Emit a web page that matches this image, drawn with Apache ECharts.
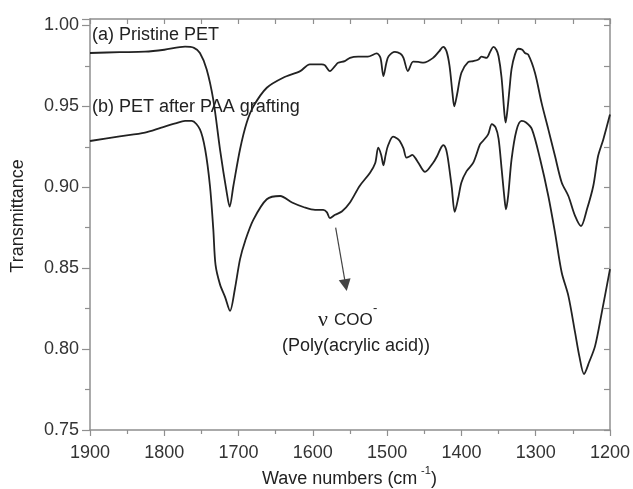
<!DOCTYPE html>
<html>
<head>
<meta charset="utf-8">
<script src="https://cdn.jsdelivr.net/npm/echarts@6/dist/echarts.min.js"></script>
<style>html,body{margin:0;padding:0;background:#fff;}#c{width:633px;height:489px;}</style>
</head>
<body>
<div id="c"></div>
<script>
// Wave numbers (cm-1) and transmittance, curve (a) Pristine PET
const waveA = [1900,1860,1826,1800,1772,1760,1752,1743,1734,1725,1716,1712,1707,1698,1689,1680,1662,1640,1617,1604,1588,1584,1577,1570,1566,1557,1550,1539,1526,1514,1509,1505,1501,1498,1489.5,1482,1478,1472,1465,1458,1451,1438,1430,1424.5,1420,1416,1412,1409.6,1406,1400,1391,1384,1377,1373,1366,1361,1357,1353,1350,1346,1342,1340.5,1338,1335,1332.5,1328,1323.5,1318,1314.5,1310,1301,1292,1283,1274,1265,1256,1247,1239,1231,1222.5,1216,1209,1200];
const transA = [0.983,0.9835,0.9838,0.985,0.9869,0.9862,0.983,0.973,0.954,0.9235,0.897,0.888,0.9008,0.9235,0.94,0.95,0.9615,0.9677,0.9718,0.976,0.976,0.9755,0.9718,0.975,0.977,0.978,0.98,0.9807,0.9807,0.9827,0.98,0.9687,0.977,0.981,0.9837,0.9825,0.98,0.9718,0.9776,0.9775,0.977,0.98,0.984,0.9868,0.984,0.975,0.958,0.95,0.957,0.9708,0.9774,0.978,0.979,0.9807,0.98,0.984,0.9868,0.985,0.981,0.968,0.945,0.94,0.948,0.962,0.973,0.982,0.9856,0.985,0.983,0.982,0.9708,0.952,0.9358,0.9193,0.903,0.8946,0.8823,0.876,0.8864,0.9008,0.9193,0.9296,0.945];
// curve (b) PET after PAA grafting
const waveB = [1900,1860,1826,1804,1785,1772,1763,1752,1745,1738.5,1734,1731,1725,1718,1711.5,1705,1698,1691,1680,1662,1644,1628,1611,1597,1586,1581,1577,1570,1561,1550,1537,1523,1516,1512,1508,1505,1502,1499,1492,1486,1483,1478,1474,1470,1466,1462,1458,1449,1438,1433,1428,1424.5,1421,1418,1413,1409,1404,1400,1393,1384,1375,1371,1364,1359,1354,1350,1346,1342,1340,1337,1332.5,1326,1319,1313,1305,1294,1283,1274,1265,1256,1247,1241,1235,1228,1220,1211,1200];
const transB = [0.9286,0.9315,0.9338,0.9369,0.9395,0.941,0.941,0.9358,0.9235,0.9008,0.874,0.852,0.84,0.832,0.8236,0.837,0.8556,0.867,0.88,0.8926,0.8946,0.8906,0.8875,0.886,0.886,0.8845,0.8809,0.883,0.885,0.8906,0.9008,0.909,0.915,0.9245,0.92,0.9136,0.92,0.9255,0.9313,0.93,0.9286,0.924,0.9183,0.919,0.92,0.918,0.9152,0.9095,0.9152,0.919,0.924,0.926,0.924,0.9173,0.9,0.8848,0.894,0.903,0.91,0.9152,0.9265,0.9286,0.9327,0.939,0.937,0.93,0.912,0.893,0.8864,0.895,0.9173,0.935,0.941,0.94,0.9358,0.9173,0.8946,0.872,0.8473,0.8329,0.8103,0.795,0.7846,0.792,0.802,0.8227,0.8494];
const xTicks = [1900,1800,1700,1600,1500,1400,1300,1200];
const yTicks = [0.75,0.80,0.85,0.90,0.95,1.00];
// arrow annotation (data coordinates)
const arrowFrom = [1569.3, 0.8751];
const arrowTo = [1555.8, 0.8395];

const zip = (xs, ys) => xs.map((x, i) => [x, ys[i]]);
const axisColor = '#8f8f8f';
const font = '"Liberation Sans", Arial, sans-serif';

const chart = echarts.init(document.getElementById('c'), null, {renderer: 'canvas'});
const baseX = {
  type: 'value', min: 1200, max: 1900, interval: 100, inverse: true,
  axisLine: {show: true, onZero: false, lineStyle: {color: axisColor, width: 1.5}},
  splitLine: {show: false}
};
const baseY = {
  type: 'value', min: 0.75, max: 1.004, interval: 0.05,
  axisLine: {show: true, onZero: false, lineStyle: {color: axisColor, width: 1.5}},
  splitLine: {show: false}
};
const isTick = (v, arr) => arr.some(t => Math.abs(t - v) < 1e-6);
chart.setOption({
  animation: false,
  backgroundColor: '#fff',
  grid: {left: 90, right: 23, top: 19, bottom: 59},
  xAxis: [
    Object.assign({}, baseX, {
      position: 'bottom',
      axisTick: {show: true, inside: false, length: 6, lineStyle: {color: axisColor, width: 1.2}},
      minorTick: {show: true, splitNumber: 2, length: 4, lineStyle: {color: axisColor, width: 1.2}},
      axisLabel: {show: true, margin: 14, fontSize: 18, fontFamily: font, color: '#333',
        formatter: v => isTick(v, xTicks) ? String(v) : ''}
    }),
    Object.assign({}, baseX, {
      position: 'top',
      axisTick: {show: true, inside: true, length: 5, lineStyle: {color: axisColor, width: 1.2}},
      minorTick: {show: true, splitNumber: 2, length: 5, lineStyle: {color: axisColor, width: 1.2}},
      axisLabel: {show: false}
    })
  ],
  yAxis: [
    Object.assign({}, baseY, {
      position: 'left',
      axisTick: {show: true, inside: false, length: 8, lineStyle: {color: axisColor, width: 1.2}},
      minorTick: {show: true, splitNumber: 2, length: 5, lineStyle: {color: axisColor, width: 1.2}},
      axisLabel: {show: true, margin: 11, fontSize: 18, fontFamily: font, color: '#333',
        showMaxLabel: false,
        formatter: v => isTick(v, yTicks) ? v.toFixed(2) : ''}
    }),
    Object.assign({}, baseY, {
      position: 'right',
      axisTick: {show: true, inside: true, length: 6, lineStyle: {color: axisColor, width: 1.2}},
      minorTick: {show: true, splitNumber: 2, length: 6, lineStyle: {color: axisColor, width: 1.2}},
      axisLabel: {show: false}
    })
  ],
  series: [
    {
      name: '(a) Pristine PET', type: 'line', xAxisIndex: 0, yAxisIndex: 0,
      data: zip(waveA, transA), showSymbol: false, smooth: 0.3,
      lineStyle: {color: '#222', width: 1.8}
    },
    {
      name: '(b) PET after PAA grafting', type: 'line', xAxisIndex: 0, yAxisIndex: 0,
      data: zip(waveB, transB), showSymbol: false, smooth: 0.3,
      lineStyle: {color: '#222', width: 1.8},
      markLine: {
        silent: true, symbol: ['none', 'triangle'], symbolSize: 12,
        label: {show: false},
        lineStyle: {color: '#444', width: 1.2, type: 'solid'},
        data: [[{coord: arrowFrom}, {coord: arrowTo}]]
      }
    }
  ],
  graphic: [
    {type: 'text', x: 92, y: 35, style: {text: '(a) Pristine PET', font: '18px ' + font, fill: '#222', textAlign: 'left', textVerticalAlign: 'middle', verticalAlign: 'middle'}},
    {type: 'text', x: 92, y: 107, style: {text: '(b) PET after PAA grafting', font: '18px ' + font, fill: '#222', textAlign: 'left', textVerticalAlign: 'middle', verticalAlign: 'middle'}},
    {type: 'text', x: 318, y: 320, style: {text: 'ν', font: '22px "Liberation Serif", "Times New Roman", serif', fill: '#222', textAlign: 'left', textVerticalAlign: 'middle', verticalAlign: 'middle'}},
    {type: 'text', x: 334, y: 320, style: {text: 'COO', font: '17px ' + font, fill: '#222', textAlign: 'left', textVerticalAlign: 'middle', verticalAlign: 'middle'}},
    {type: 'text', x: 373, y: 308, style: {text: '-', font: '13px ' + font, fill: '#222', textAlign: 'left', textVerticalAlign: 'middle', verticalAlign: 'middle'}},
    {type: 'text', x: 282, y: 346, style: {text: '(Poly(acrylic acid))', font: '18px ' + font, fill: '#222', textAlign: 'left', textVerticalAlign: 'middle', verticalAlign: 'middle'}},
    {type: 'text', x: 262, y: 479, style: {text: 'Wave numbers (cm', font: '18px ' + font, fill: '#222', textAlign: 'left', textVerticalAlign: 'middle', verticalAlign: 'middle'}},
    {type: 'text', x: 421, y: 471, style: {text: '-1', font: '11px ' + font, fill: '#222', textAlign: 'left', textVerticalAlign: 'middle', verticalAlign: 'middle'}},
    {type: 'text', x: 431, y: 479, style: {text: ')', font: '18px ' + font, fill: '#222', textAlign: 'left', textVerticalAlign: 'middle', verticalAlign: 'middle'}},
    {type: 'text', x: 18, y: 216, rotation: Math.PI / 2, style: {text: 'Transmittance', font: '18px ' + font, fill: '#222', textAlign: 'center', textVerticalAlign: 'middle', verticalAlign: 'middle'}}
  ]
});
</script>
</body>
</html>
